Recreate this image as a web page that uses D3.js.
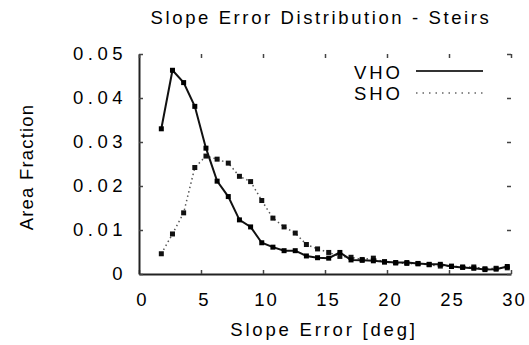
<!DOCTYPE html>
<html>
<head>
<meta charset="utf-8">
<script src="https://cdn.jsdelivr.net/npm/d3@7"></script>
<style>
  body { margin: 0; background: #fff; }
  text { font-family: "Liberation Sans", Arial, sans-serif; fill: #000; }
</style>
</head>
<body>
<script>
const slopeError = [1.8, 2.7, 3.6, 4.5, 5.4, 6.3, 7.2, 8.1, 9.0, 9.9, 10.8, 11.7, 12.6, 13.5, 14.4, 15.3,
                    16.2, 17.1, 18.0, 18.9, 19.8, 20.7, 21.6, 22.5, 23.4, 24.3, 25.2, 26.1, 27.0, 27.9, 28.8, 29.7];
const vho = [0.0330, 0.0463, 0.0435, 0.0381, 0.0286, 0.0211, 0.0176, 0.0123, 0.0107, 0.0071, 0.0061, 0.0053,
             0.0053, 0.0041, 0.0037, 0.0036, 0.0049, 0.0032, 0.0031, 0.0030, 0.0028, 0.0026, 0.0026, 0.0024,
             0.0022, 0.0022, 0.0017, 0.0015, 0.0013, 0.0010, 0.0011, 0.0017];
const sho = [0.0046, 0.0091, 0.0139, 0.0242, 0.0268, 0.0261, 0.0252, 0.0222, 0.0210, 0.0167, 0.0127, 0.0107,
             0.0093, 0.0067, 0.0057, 0.0049, 0.0040, 0.0038, 0.0033, 0.0036, 0.0027, 0.0025, 0.0024, 0.0023,
             0.0021, 0.0018, 0.0018, 0.0016, 0.0016, 0.0012, 0.0013, 0.0014];
const xTicks = [0, 5, 10, 15, 20, 25, 30];
const yTicks = [0, 0.01, 0.02, 0.03, 0.04, 0.05];

const W = 529, H = 345;
const margin = { top: 54, right: 18, bottom: 71, left: 139 },
      width = W - margin.left - margin.right,
      height = H - margin.top - margin.bottom;

const svg = d3.select("body").append("svg")
  .attr("width", W)
  .attr("height", H);

const g = svg.append("g")
  .attr("transform", `translate(${margin.left},${margin.top})`);

const x = d3.scaleLinear().domain([0, 30]).range([0, width]);
const y = d3.scaleLinear().domain([0, 0.05]).range([height, 0]);

const fontSize = "18.5px";

// bottom axis (ticks inward)
const xAxis = g.append("g")
  .attr("transform", `translate(0,${height})`)
  .call(d3.axisBottom(x).tickValues(xTicks).tickSizeInner(-4).tickSizeOuter(0).tickPadding(19).tickFormat(d3.format("d")));
xAxis.select(".domain").attr("stroke", "#222").attr("stroke-width", 2);
xAxis.selectAll("text").attr("dx", 3).style("font-size", fontSize).style("letter-spacing", "2px");

// left axis
const yAxis = g.append("g")
  .call(d3.axisLeft(y).tickValues(yTicks).tickSizeInner(-4).tickSizeOuter(0).tickPadding(12)
    .tickFormat(d => d === 0 ? "0" : d3.format(".2f")(d)));
yAxis.select(".domain").attr("stroke", "#222").attr("stroke-width", 2);
yAxis.selectAll("text").style("font-size", fontSize).style("letter-spacing", "4.5px");

// mirrored ticks at top and right (no border line)
const topAxis = g.append("g")
  .call(d3.axisTop(x).tickValues(xTicks).tickSizeInner(-4).tickSizeOuter(0).tickFormat(""));
topAxis.select(".domain").remove();
const rightAxis = g.append("g")
  .attr("transform", `translate(${width},0)`)
  .call(d3.axisRight(y).tickValues(yTicks).tickSizeInner(-4).tickSizeOuter(0).tickFormat(""));
rightAxis.select(".domain").remove();
g.selectAll(".tick line").attr("stroke", "#444").attr("stroke-width", 1.5);

const line = d3.line()
  .x((d, i) => x(slopeError[i]))
  .y(d => y(d));

// SHO dotted
g.append("path")
  .datum(sho)
  .attr("fill", "none")
  .attr("stroke", "#555")
  .attr("stroke-width", 1.5)
  .attr("stroke-dasharray", "1.5,3")
  .attr("d", line);

g.append("g").selectAll("rect")
  .data(sho)
  .enter().append("rect")
  .attr("x", (d, i) => x(slopeError[i]) - 2.5)
  .attr("y", d => y(d) - 2.5)
  .attr("width", 5)
  .attr("height", 5)
  .attr("fill", "#111");

// VHO solid
g.append("path")
  .datum(vho)
  .attr("fill", "none")
  .attr("stroke", "#111")
  .attr("stroke-width", 2)
  .attr("d", line);

g.append("g").selectAll("rect")
  .data(vho)
  .enter().append("rect")
  .attr("x", (d, i) => x(slopeError[i]) - 2.5)
  .attr("y", d => y(d) - 2.5)
  .attr("width", 5)
  .attr("height", 5)
  .attr("fill", "#000");

// legend
const legend = svg.append("g");
legend.append("text").attr("x", 403).attr("y", 78.5).attr("text-anchor", "end")
  .style("font-size", fontSize).style("letter-spacing", "3px").text("VHO");
legend.append("line").attr("x1", 416).attr("x2", 483).attr("y1", 71).attr("y2", 71)
  .attr("stroke", "#333").attr("stroke-width", 2);
legend.append("text").attr("x", 403).attr("y", 99.5).attr("text-anchor", "end")
  .style("font-size", fontSize).style("letter-spacing", "3px").text("SHO");
legend.append("line").attr("x1", 416).attr("x2", 483).attr("y1", 93).attr("y2", 93)
  .attr("stroke", "#666").attr("stroke-width", 1.5).attr("stroke-dasharray", "1.5,5");

// title
svg.append("text")
  .attr("x", 321).attr("y", 24)
  .attr("text-anchor", "middle")
  .style("font-size", fontSize).style("letter-spacing", "2.6px")
  .text("Slope Error Distribution - Steirs");

// axis titles
svg.append("text")
  .attr("x", 324).attr("y", 336)
  .attr("text-anchor", "middle")
  .style("font-size", fontSize).style("letter-spacing", "2.8px")
  .text("Slope Error [deg]");

svg.append("text")
  .attr("transform", "translate(33,167) rotate(-90)")
  .attr("text-anchor", "middle")
  .style("font-size", fontSize).style("letter-spacing", "1.2px")
  .text("Area Fraction");
</script>
</body>
</html>
